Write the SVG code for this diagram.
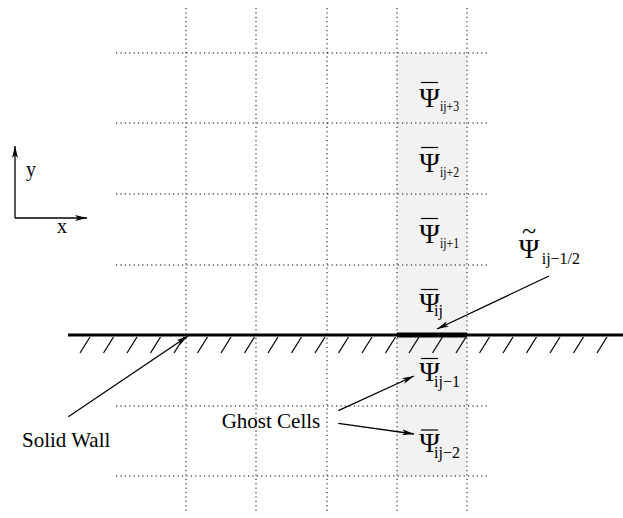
<svg xmlns="http://www.w3.org/2000/svg" width="623" height="518" viewBox="0 0 623 518">
<style>
.grid{stroke:#000;stroke-width:1;stroke-dasharray:1.2 3.2;fill:none}
.t{font-family:"Liberation Serif","Times New Roman",serif;fill:#000}
.lab{font-size:20px}
.psi{font-size:28px}
.sub{font-size:16px}
.subu{font-size:15px}
.bar{stroke:#000;stroke-width:1.2}
.arr{stroke:#000;stroke-width:1.3;fill:none;marker-end:url(#ah)}
.hatch{stroke:#000;stroke-width:1.2}
</style>
<defs>
<marker id="ah" viewBox="0 0 12 6" refX="12" refY="3" markerWidth="12" markerHeight="6" markerUnits="userSpaceOnUse" orient="auto">
<path d="M0,0 L12,3 L0,6 L3,3 Z" fill="#000"/>
</marker>
</defs>
<rect x="397" y="53" width="70" height="423" fill="#f2f2f2"/>
<g id="grid">
<line class="grid" x1="186" y1="8" x2="186" y2="512"/>
<line class="grid" x1="256" y1="8" x2="256" y2="512"/>
<line class="grid" x1="327" y1="8" x2="327" y2="512"/>
<line class="grid" x1="397" y1="8" x2="397" y2="512"/>
<line class="grid" x1="467" y1="8" x2="467" y2="512"/>
<line class="grid" x1="116" y1="53" x2="490" y2="53"/>
<line class="grid" x1="116" y1="123" x2="490" y2="123"/>
<line class="grid" x1="116" y1="194" x2="490" y2="194"/>
<line class="grid" x1="116" y1="265" x2="490" y2="265"/>
<line class="grid" x1="116" y1="406" x2="490" y2="406"/>
<line class="grid" x1="116" y1="476" x2="490" y2="476"/>
</g>
<g id="wall">
<line x1="68" y1="335" x2="623" y2="335" stroke="#000" stroke-width="3"/>
<rect x="397" y="332.5" width="70" height="5" fill="#000"/>
<g class="hatch">
<line x1="80" y1="353" x2="90" y2="337"/>
<line x1="103.5" y1="353" x2="113.5" y2="337"/>
<line x1="127" y1="353" x2="137" y2="337"/>
<line x1="150.5" y1="353" x2="160.5" y2="337"/>
<line x1="174" y1="353" x2="184" y2="337"/>
<line x1="197.5" y1="353" x2="207.5" y2="337"/>
<line x1="221" y1="353" x2="231" y2="337"/>
<line x1="244.5" y1="353" x2="254.5" y2="337"/>
<line x1="268" y1="353" x2="278" y2="337"/>
<line x1="291.5" y1="353" x2="301.5" y2="337"/>
<line x1="315" y1="353" x2="325" y2="337"/>
<line x1="338.5" y1="353" x2="348.5" y2="337"/>
<line x1="362" y1="353" x2="372" y2="337"/>
<line x1="385.5" y1="353" x2="395.5" y2="337"/>
<line x1="409" y1="353" x2="419" y2="337"/>
<line x1="432.5" y1="353" x2="442.5" y2="337"/>
<line x1="456" y1="353" x2="466" y2="337"/>
<line x1="479.5" y1="353" x2="489.5" y2="337"/>
<line x1="503" y1="353" x2="513" y2="337"/>
<line x1="526.5" y1="353" x2="536.5" y2="337"/>
<line x1="550" y1="353" x2="560" y2="337"/>
<line x1="573.5" y1="353" x2="583.5" y2="337"/>
<line x1="597" y1="353" x2="607" y2="337"/>
</g>
</g>
<g id="axes">
<line class="arr" x1="15" y1="218" x2="15" y2="146"/>
<line class="arr" x1="15" y1="218" x2="87" y2="218"/>
<text class="t lab" x="26" y="176">y</text>
<text class="t lab" x="57" y="233">x</text>
</g>
<g id="psi-ij3">
<line class="bar" x1="421" y1="82.5" x2="438" y2="82.5"/>
<text class="t psi" x="429.5" y="106.7" text-anchor="middle">Ψ</text>
<text class="t subu" x="440" y="111" textLength="19" lengthAdjust="spacingAndGlyphs">ij+3</text>
</g>
<g id="psi-ij2">
<line class="bar" x1="421" y1="147.5" x2="438" y2="147.5"/>
<text class="t psi" x="429.5" y="172" text-anchor="middle">Ψ</text>
<text class="t subu" x="440" y="177" textLength="19" lengthAdjust="spacingAndGlyphs">ij+2</text>
</g>
<g id="psi-ij1">
<line class="bar" x1="421" y1="218.5" x2="438" y2="218.5"/>
<text class="t psi" x="429.5" y="243" text-anchor="middle">Ψ</text>
<text class="t subu" x="440" y="248" textLength="19" lengthAdjust="spacingAndGlyphs">ij+1</text>
</g>
<g id="psi-ij">
<line class="bar" x1="421" y1="289.5" x2="438" y2="289.5"/>
<text class="t psi" x="429.5" y="311.7" text-anchor="middle">Ψ</text>
<text class="t sub" x="434" y="316">ij</text>
</g>
<g id="psi-ijm1">
<line class="bar" x1="421" y1="358.5" x2="438" y2="358.5"/>
<text class="t psi" x="429.5" y="380.7" text-anchor="middle">Ψ</text>
<text class="t sub" x="434" y="387">ij−1</text>
</g>
<g id="psi-ijm2">
<line class="bar" x1="421" y1="430" x2="438" y2="430"/>
<text class="t psi" x="429.5" y="451.7" text-anchor="middle">Ψ</text>
<text class="t sub" x="434" y="458">ij−2</text>
</g>
<g id="psi-tilde">
<text class="t" style="font-size:26px" x="529" y="239" text-anchor="middle">~</text>
<text class="t psi" x="529" y="258" text-anchor="middle">Ψ</text>
<text class="t sub" x="541.7" y="264">ij−1/2</text>
</g>
<g id="solid-wall">
<text class="t" style="font-size:21px" x="22" y="447">Solid Wall</text>
</g>
<g id="ghost-cells">
<text class="t" style="font-size:21px" x="221.7" y="428">Ghost Cells</text>
</g>
<g id="connectors">
<line class="arr" x1="68.3" y1="416.7" x2="188" y2="336"/>
<line class="arr" x1="549" y1="276" x2="437" y2="329"/>
<line class="arr" x1="338.3" y1="410.7" x2="414" y2="376"/>
<line class="arr" x1="338.3" y1="423.3" x2="414" y2="434"/>
</g>
</svg>
